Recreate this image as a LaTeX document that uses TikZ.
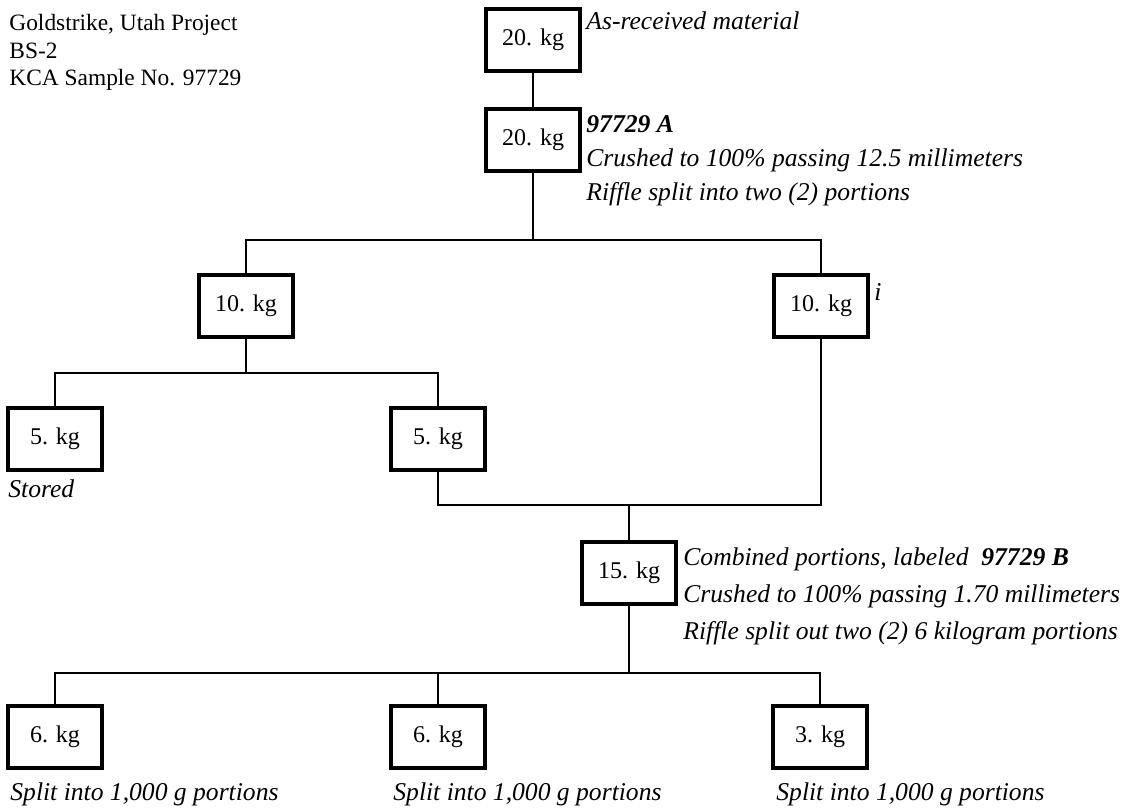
\documentclass[tikz,border=0pt]{standalone}
\usepackage{fontspec}
\setmainfont{Liberation Serif}

\begin{document}
\begin{tikzpicture}[x=0.5pt,y=-0.5pt,
                    box/.style={draw, black, line width=2pt, minimum width=47pt, minimum height=31pt, inner sep=0pt, font=\fontsize{12}{14}\selectfont},
                    link/.style={line width=1pt, black},
                    note/.style={inner sep=0pt, align=left, anchor=base west, font=\fontsize{12.8}{17}\selectfont\itshape},
                    head/.style={inner sep=0pt, align=left, anchor=base west, font=\fontsize{11.7}{13.75}\selectfont},
                   ]

\useasboundingbox (0,0) rectangle (1133,807);

% sample header (base = last line)
\node[head] (title) at (9,86) {Goldstrike, Utah Project\\BS-2\\KCA Sample No. 97729};

% weights
\node[box] (raw) at (533,40) {20. kg};
\node[box] (crushA) at (533,140) {20. kg};
\node[box] (halfL) at (246,306) {10. kg};
\node[box] (halfR) at (821,306) {10. kg};
\node[box] (storeL) at (55,439) {5. kg};
\node[box] (keepR) at (438,439) {5. kg};
\node[box] (comb) at (629,573) {15. kg};
\node[box] (splitA) at (55,737) {6. kg};
\node[box] (splitB) at (438,737) {6. kg};
\node[box] (splitC) at (820,737) {3. kg};

% notes
\node[note] (rawtxt) at (586,30) {As-received material};
\node[note] (crushtxt) at (586,201) {\textbf{97729 A}\\Crushed to 100\% passing 12.5 millimeters\\Riffle split into two (2) portions};
\node[note] (itxt) at (874,300) {i};
\node[note] (storetxt) at (8,497) {Stored};
\node[note, font=\fontsize{12.8}{18.5}\selectfont\itshape] (combtxt) at (683,639) {Combined portions, labeled \textbf{ 97729 B}\\Crushed to 100\% passing 1.70 millimeters\\Riffle split out two (2) 6 kilogram portions};
\node[note] (splitAtxt) at (10,800) {Split into 1,000 g portions};
\node[note] (splitBtxt) at (393,800) {Split into 1,000 g portions};
\node[note] (splitCtxt) at (776,800) {Split into 1,000 g portions};

% junctions
\coordinate (j1) at (533,240);
\coordinate (j2) at (246,373);
\coordinate (j3) at (629,505);
\coordinate (j4) at (629,673);

\draw[link] (raw) -- (crushA);
\draw[link] (crushA) -- (j1);
\draw[link] (halfL.north) |- (j1) -| (halfR.north);
\draw[link] (halfL) -- (j2);
\draw[link] (storeL.north) |- (j2) -| (keepR.north);
\draw[link] (keepR.south) |- (j3) -| (halfR.south);
\draw[link] (j3) -- (comb);
\draw[link] (comb) -- (j4);
\draw[link] (splitA.north) |- (j4) -| (splitC.north);
\draw[link] (splitB.north) -- (splitB.north |- j4);

\end{tikzpicture}
\end{document}
